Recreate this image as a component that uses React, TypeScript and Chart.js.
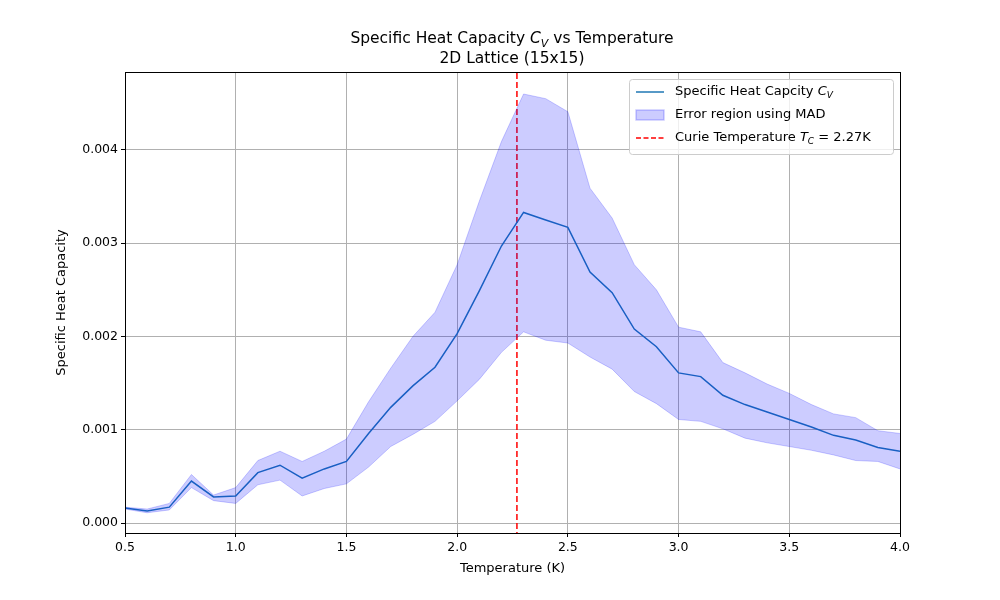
import { Chart, registerables } from "chart.js";
import { useEffect, useRef } from "react";

Chart.register(...registerables);

const temps = [0.5, 0.6, 0.7, 0.8, 0.9, 1.0, 1.1, 1.2, 1.3, 1.4, 1.5, 1.6, 1.7, 1.8, 1.9, 2.0, 2.1, 2.2, 2.3, 2.4, 2.5, 2.6, 2.7, 2.8, 2.9, 3.0, 3.1, 3.2, 3.3, 3.4, 3.5, 3.6, 3.7, 3.8, 3.9, 4.0];
const heatMean = [0.00016, 0.00013, 0.00017, 0.00045, 0.00028, 0.00029, 0.00054, 0.00062, 0.00048, 0.00058, 0.00066, 0.00096, 0.00124, 0.00147, 0.00167, 0.00203, 0.00249, 0.00297, 0.00333, 0.00325, 0.00317, 0.00269, 0.00247, 0.00208, 0.00189, 0.00161, 0.00157, 0.00137, 0.00127, 0.00119, 0.00111, 0.00103, 0.00094, 0.00089, 0.00081, 0.00077];
const heatUpper = [0.00017, 0.00015, 0.00021, 0.00052, 0.0003, 0.00038, 0.00067, 0.00077, 0.00066, 0.00077, 0.0009, 0.0013, 0.00166, 0.002, 0.00226, 0.00277, 0.00345, 0.00409, 0.0046, 0.00455, 0.00441, 0.00359, 0.00327, 0.00277, 0.0025, 0.0021, 0.00205, 0.00172, 0.00161, 0.00149, 0.00139, 0.00127, 0.00117, 0.00113, 0.00099, 0.00096];
const heatLower = [0.00015, 0.00011, 0.00014, 0.00038, 0.00024, 0.00021, 0.00041, 0.00046, 0.00029, 0.00037, 0.00042, 0.0006, 0.00082, 0.00095, 0.00109, 0.00131, 0.00154, 0.00183, 0.00205, 0.00196, 0.00193, 0.00178, 0.00165, 0.00141, 0.00128, 0.00111, 0.00109, 0.00101, 0.00091, 0.00086, 0.00082, 0.00078, 0.00073, 0.00067, 0.00066, 0.00058];
const curieTemp = 2.27;
const yTicks = [0, 0.001, 0.002, 0.003, 0.004];

const FONT = "'DejaVu Sans', sans-serif";

// draws "pre L_sub post" with italic letter L and subscript
function richText(ctx: CanvasRenderingContext2D, x: number, y: number, size: number, pre: string, letter: string, sub: string, post: string, align: "left" | "center") {
  const normal = `${size}px ${FONT}`;
  const italic = `italic ${size}px ${FONT}`;
  const small = `italic ${Math.round(size * 0.7)}px ${FONT}`;
  ctx.font = normal;
  const w1 = ctx.measureText(pre).width;
  ctx.font = italic;
  const w2 = ctx.measureText(letter).width;
  ctx.font = small;
  const w3 = ctx.measureText(sub).width;
  ctx.font = normal;
  const w4 = ctx.measureText(post).width;
  let cx = align === "center" ? x - (w1 + w2 + w3 + w4) / 2 : x;
  ctx.textAlign = "left";
  ctx.textBaseline = "middle";
  ctx.fillStyle = "#000";
  ctx.font = normal;
  ctx.fillText(pre, cx, y);
  cx += w1;
  ctx.font = italic;
  ctx.fillText(letter, cx, y);
  cx += w2;
  ctx.font = small;
  ctx.fillText(sub, cx, y + size * 0.3);
  cx += w3;
  ctx.font = normal;
  ctx.fillText(post, cx, y);
}

const decorations = {
  id: "decorations",
  afterDraw(chart: Chart) {
    const ctx = chart.ctx;
    const a = chart.chartArea;
    ctx.save();
    // axes box
    ctx.strokeStyle = "#000";
    ctx.lineWidth = 1;
    ctx.strokeRect(Math.round(a.left) + 0.5, Math.round(a.top) + 0.5, Math.round(a.right - a.left), Math.round(a.bottom - a.top));

    richText(ctx, 512, 39, 15.5, "Specific Heat Capacity ", "C", "V", " vs Temperature", "center");
    ctx.font = `15.5px ${FONT}`;
    ctx.textAlign = "center";
    ctx.fillText("2D Lattice (15x15)", 512, 59);

    // axis titles
    ctx.font = `13px ${FONT}`;
    ctx.textAlign = "center";
    ctx.textBaseline = "middle";
    ctx.fillText("Temperature (K)", (a.left + a.right) / 2, 569);
    ctx.translate(62, (a.top + a.bottom) / 2);
    ctx.rotate(-Math.PI / 2);
    ctx.fillText("Specific Heat Capacity", 0, 0);
    ctx.setTransform(1, 0, 0, 1, 0, 0);

    // legend
    const lx = 629, ly = 79, lw = 264, lh = 75;
    ctx.fillStyle = "rgba(255,255,255,0.8)";
    ctx.strokeStyle = "#cccccc";
    ctx.lineWidth = 1;
    ctx.beginPath();
    ctx.roundRect(lx + 0.5, ly + 0.5, lw, lh, 3);
    ctx.fill();
    ctx.stroke();
    ctx.lineWidth = 1.5;
    ctx.strokeStyle = "#1f77b4";
    ctx.beginPath();
    ctx.moveTo(636, 92);
    ctx.lineTo(664, 92);
    ctx.stroke();
    ctx.fillStyle = "rgba(0,0,255,0.2)";
    ctx.strokeStyle = "rgba(0,0,255,0.2)";
    ctx.fillRect(636, 110, 28, 10);
    ctx.strokeRect(636, 110, 28, 10);
    ctx.strokeStyle = "red";
    ctx.setLineDash([5, 2.5]);
    ctx.beginPath();
    ctx.moveTo(636, 138);
    ctx.lineTo(664, 138);
    ctx.stroke();
    ctx.setLineDash([]);
    richText(ctx, 675, 92, 13, "Specific Heat Capcity ", "C", "V", "", "left");
    ctx.font = `13px ${FONT}`;
    ctx.fillStyle = "#000";
    ctx.fillText("Error region using MAD", 675, 115);
    richText(ctx, 675, 138, 13, "Curie Temperature ", "T", "C", " = 2.27K", "left");
    ctx.restore();
  },
};

export default function App() {
  const canvasRef = useRef<HTMLCanvasElement>(null);
  const chartRef = useRef<Chart | null>(null);

  useEffect(() => {
    document.body.style.margin = "0";
    if (!canvasRef.current) return;
    if (chartRef.current) chartRef.current.destroy();

    const pts = (vals: number[]) => vals.map((v, i) => ({ x: temps[i], y: v }));

    chartRef.current = new Chart(canvasRef.current, {
      type: "line",
      data: {
        datasets: [
          { data: pts(heatLower), borderColor: "rgba(0,0,255,0.2)", borderWidth: 1, pointRadius: 0, fill: false },
          { data: pts(heatUpper), borderColor: "rgba(0,0,255,0.2)", backgroundColor: "rgba(0,0,255,0.2)", borderWidth: 1, pointRadius: 0, fill: "-1" },
          { data: pts(heatMean), borderColor: "#1f77b4", borderWidth: 1.5, pointRadius: 0, fill: false },
          { data: [{ x: curieTemp, y: -1 }, { x: curieTemp, y: 1 }], borderColor: "red", borderWidth: 1.5, borderDash: [6, 3], pointRadius: 0, fill: false },
        ],
      },
      plugins: [decorations],
      options: {
        responsive: false,
        animation: false,
        layout: { padding: { top: 72, right: 100, left: 0, bottom: 0 } },
        plugins: { legend: { display: false }, tooltip: { enabled: false } },
        scales: {
          x: {
            type: "linear",
            min: 0.5,
            max: 4.0,
            afterFit: (s: any) => { s.height = 67; },
            ticks: { stepSize: 0.5, color: "#000", font: { family: FONT, size: 12.5 }, callback: (v: any) => Number(v).toFixed(1) },
            grid: { color: "#b0b0b0", tickColor: "#000", tickLength: 4 },
            border: { color: "#000" },
          },
          y: {
            min: -0.000107,
            max: 0.004836,
            afterFit: (s: any) => { s.width = 125; },
            afterBuildTicks: (s: any) => { s.ticks = yTicks.map((v) => ({ value: v })); },
            ticks: { color: "#000", font: { family: FONT, size: 12.5 }, callback: (v: any) => Number(v).toFixed(3) },
            grid: { color: "#b0b0b0", tickColor: "#000", tickLength: 4 },
            border: { color: "#000" },
          },
        },
      },
    });

    return () => {
      if (chartRef.current) chartRef.current.destroy();
      chartRef.current = null;
    };
  }, []);

  return <canvas ref={canvasRef} width={1000} height={600} style={{ display: "block" }}></canvas>;
}
